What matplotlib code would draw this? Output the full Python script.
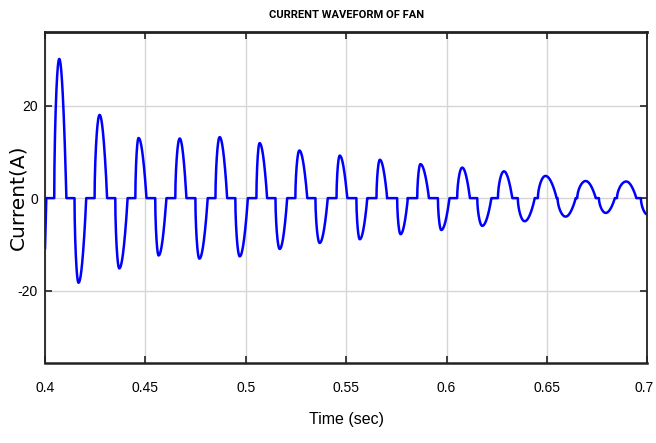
import numpy as np
import matplotlib
matplotlib.use("Agg")
import matplotlib.pyplot as plt
from matplotlib.transforms import ScaledTranslation

# Pulse data (seconds, amperes)
pulse_start = [0.3960, 0.4046, 0.4147, 0.4247, 0.4350, 0.4450, 0.4549, 0.4649,
               0.4749, 0.4849, 0.4948, 0.5053, 0.5148, 0.5247, 0.5347, 0.5452,
               0.5551, 0.5651, 0.5754, 0.5854, 0.5957, 0.6053, 0.6153, 0.6256,
               0.6355, 0.6455, 0.6553, 0.6651, 0.6759, 0.6849, 0.6968]
pulse_peak = [0.3985, 0.4071, 0.4167, 0.4272, 0.4370, 0.4466, 0.4566, 0.4671,
              0.4769, 0.4870, 0.4970, 0.5069, 0.5169, 0.5267, 0.5368, 0.5468,
              0.5568, 0.5668, 0.5771, 0.5870, 0.5974, 0.6078, 0.6178, 0.6286,
              0.6389, 0.6493, 0.6593, 0.6693, 0.6793, 0.6895, 0.7003]
pulse_end = [0.4006, 0.4106, 0.4205, 0.4309, 0.4411, 0.4505, 0.4604, 0.4704,
             0.4810, 0.4907, 0.5010, 0.5106, 0.5206, 0.5306, 0.5408, 0.5505,
             0.5605, 0.5704, 0.5807, 0.5912, 0.6014, 0.6116, 0.6223, 0.6327,
             0.6439, 0.6548, 0.6643, 0.6743, 0.6838, 0.6945, 0.7045]
pulse_amp = [-22.0, 30.1, -18.3, 18.0, -15.2, 13.0, -12.4, 12.9,
             -13.1, 13.2, -12.6, 11.9, -11.0, 10.3, -9.7, 9.2,
             -8.9, 8.3, -7.8, 7.35, -6.9, 6.6, -6.0, 5.8,
             -5.0, 4.8, -4.0, 3.7, -3.2, 3.6, -3.6]

x_ticks = [0.4, 0.45, 0.5, 0.55, 0.6, 0.65, 0.7]
x_tick_labels = ["0.4", "0.45", "0.5", "0.55", "0.6", "0.65", "0.7"]
y_ticks = [-20, 0, 20]
y_tick_labels = ["-20", "0", "20"]

t = np.linspace(0.4, 0.7, 6001)
i = np.zeros_like(t)
for ts, tp, te, a in zip(pulse_start, pulse_peak, pulse_end, pulse_amp):
    m1 = (t >= ts) & (t < tp)
    i[m1] = a * np.sin(np.pi / 2 * (t[m1] - ts) / (tp - ts)) ** 0.55
    m2 = (t >= tp) & (t <= te)
    i[m2] = a * np.cos(np.pi / 2 * (t[m2] - tp) / (te - tp)) ** 0.85

lab_font = ['Liberation Sans', 'DejaVu Sans']

fig = plt.figure(figsize=(6.56, 4.43), dpi=100)
ax = fig.add_axes([45 / 656, 1 - 362.7 / 443, (647.3 - 45) / 656, (362.7 - 31.7) / 443])

ax.plot(t, i, color='#0000ff', linewidth=1.8)

ax.set_xlim(0.4, 0.7)
ax.set_ylim(-35.6, 36.0)
ax.set_xticks(x_ticks)
ax.set_xticklabels(x_tick_labels, family=lab_font, fontsize=10)
ax.set_yticks(y_ticks)
ax.set_yticklabels(y_tick_labels, family=lab_font, fontsize=10)
ax.tick_params(direction='in', length=5, width=1.2, top=True, right=True,
               color='#222222')
ax.tick_params(axis='y', pad=5)
ax.tick_params(axis='x', pad=13)
ax.grid(True, color='#d6d6d6', linewidth=1)
ax.set_axisbelow(True)

last = ax.get_xticklabels()[-1]
last.set_transform(last.get_transform() + ScaledTranslation(-3 / 100, 0, fig.dpi_scale_trans))

for side, sp in ax.spines.items():
    sp.set_color('#222222')
    sp.set_linewidth(1.3)
ax.spines['top'].set_linewidth(2)
ax.spines['bottom'].set_linewidth(1.8)

ax.set_title("CURRENT WAVEFORM OF FAN", family=['Roboto', 'DejaVu Sans'],
             fontweight='bold', fontsize=8, pad=10)
ax.set_xlabel("Time (sec)", family=lab_font, fontsize=11.5)
ax.xaxis.set_label_coords(0.5, -(412 - 362.7) / 331.0)
ax.set_ylabel("Current(A)", family='DejaVu Sans', fontsize=14.5)
ax.yaxis.set_label_coords(-(45 - 27) / 602.3, 0.5)

fig.savefig("out.png", dpi=100)
